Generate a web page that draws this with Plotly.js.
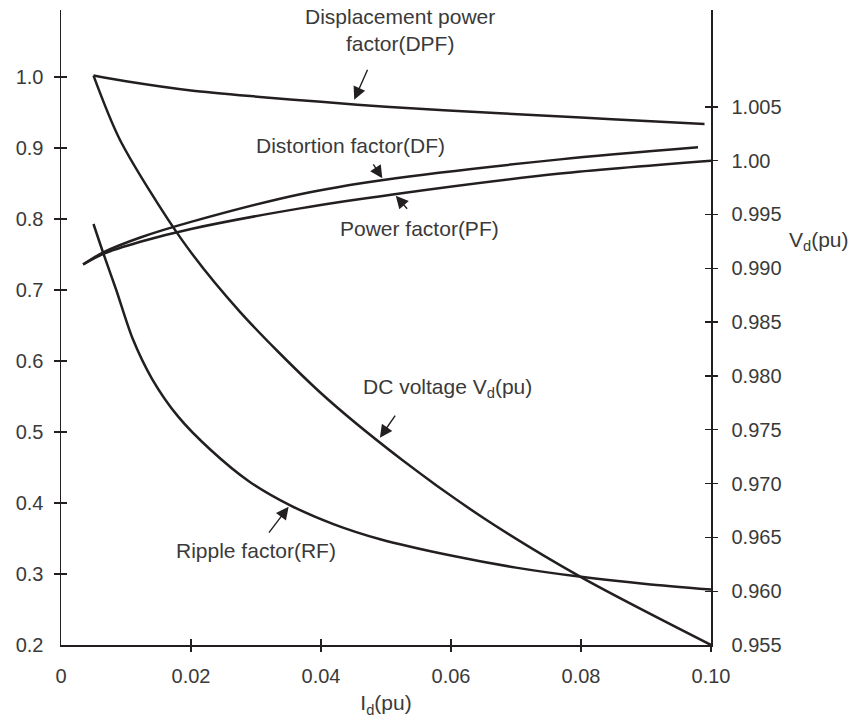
<!DOCTYPE html>
<html>
<head>
<meta charset="utf-8">
<script src="https://cdn.plot.ly/plotly-3.0.1.min.js"></script>
<style>
  html, body { margin: 0; padding: 0; background: #ffffff; }
  #chart { width: 850px; height: 722px; }
</style>
</head>
<body>
<div id="chart"></div>
<script>
// Load current I_d (pu) on the x axis
const xTickVals = [0, 0.02, 0.04, 0.06, 0.08, 0.10];
const xTickText = ['0', '0.02', '0.04', '0.06', '0.08', '0.10'];

// Left axis: factors
const leftTickVals = [0.2, 0.3, 0.4, 0.5, 0.6, 0.7, 0.8, 0.9, 1.0];
const leftTickText = ['0.2', '0.3', '0.4', '0.5', '0.6', '0.7', '0.8', '0.9', '1.0'];

// Right axis: DC voltage V_d (pu)
const rightTickVals = [0.955, 0.960, 0.965, 0.970, 0.975, 0.980, 0.985, 0.990, 0.995, 1.000, 1.005];
const rightTickText = ['0.955', '0.960', '0.965', '0.970', '0.975', '0.980', '0.985', '0.990', '0.995', '1.00', '1.005'];

// Displacement power factor (left axis)
const dpfX = [0.005, 0.010, 0.020, 0.0306, 0.040, 0.050, 0.0675, 0.080, 0.090, 0.099];
const dpfY = [1.002, 0.994, 0.981, 0.972, 0.965, 0.958, 0.949, 0.943, 0.938, 0.934];

// Distortion factor (left axis)
const dfX = [0.0034, 0.0065, 0.0122, 0.020, 0.0368, 0.0496, 0.0768, 0.098];
const dfY = [0.736, 0.753, 0.774, 0.796, 0.835, 0.855, 0.884, 0.901];

// Power factor (left axis)
const pfX = [0.0034, 0.0065, 0.0122, 0.020, 0.0368, 0.0513, 0.0768, 0.100];
const pfY = [0.736, 0.751, 0.768, 0.786, 0.815, 0.835, 0.864, 0.882];

// Ripple factor (left axis)
const rfX = [0.005, 0.0065, 0.0085, 0.011, 0.014, 0.018, 0.023, 0.029, 0.0352, 0.042, 0.0491, 0.060, 0.070, 0.080, 0.090, 0.100];
const rfY = [0.793, 0.752, 0.700, 0.632, 0.575, 0.522, 0.475, 0.430, 0.397, 0.370, 0.349, 0.326, 0.309, 0.296, 0.286, 0.278];

// DC voltage V_d (right axis)
const vdX = [0.005, 0.0091, 0.0186, 0.0275, 0.0398, 0.0525, 0.065, 0.080, 0.100];
const vdY = [1.0079, 1.0019, 0.99264, 0.98598, 0.97851, 0.97219, 0.9668, 0.9613, 0.955];

const INK = '#231f20';
const TEXT = '#3a3a3a';
const FONT = 'Liberation Sans, Arial, Helvetica, sans-serif';
const TICK_FS = 20;
const NOTE_FS = 21;

const xRange = [0, 0.1];
const leftRange = [0.2, 1.0944];
const rightRange = [0.955, 1.0140];

function interp(xs, ys, x) {
  for (let i = 0; i < xs.length - 1; i++) {
    if (x >= xs[i] && x <= xs[i + 1]) {
      const t = (x - xs[i]) / (xs[i + 1] - xs[i]);
      return ys[i] + t * (ys[i + 1] - ys[i]);
    }
  }
  return ys[ys.length - 1];
}

const curve = (x, y, yaxis) => ({
  x: x, y: y, xaxis: 'x', yaxis: yaxis,
  type: 'scatter', mode: 'lines',
  line: { color: INK, width: 2.5, shape: 'spline', smoothing: 0.8 },
  hoverinfo: 'skip', showlegend: false
});

const empty = (xa, ya) => ({ x: [], y: [], xaxis: xa, yaxis: ya, type: 'scatter', mode: 'lines', showlegend: false, hoverinfo: 'skip' });

const data = [
  curve(dpfX, dpfY, 'y'),
  curve(dfX, dfY, 'y'),
  curve(pfX, pfY, 'y'),
  curve(rfX, rfY, 'y'),
  curve(vdX, vdY, 'y2'),
  empty('x2', 'y3'),
  empty('x3', 'y4'),
  empty('x', 'y5'),
  empty('x', 'y6')
];

const tickFont = { family: FONT, size: TICK_FS, color: TEXT };
const noteFont = { family: FONT, size: NOTE_FS, color: TEXT };

// Crossing tick marks are built from an outward and an inward tick axis
const tickAxis = (extra) => Object.assign({
  showline: false, showgrid: false, zeroline: false, showticklabels: false,
  ticklen: 6, tickwidth: 1.3, tickcolor: INK, fixedrange: true
}, extra);

const arrow = (x, y, ax, ay, yref, standoff) => ({
  x: x, y: y, xref: 'x', yref: yref, text: '', showarrow: true,
  ax: ax, ay: ay, arrowhead: 2, arrowsize: 1.8, arrowwidth: 1.4,
  arrowcolor: INK, standoff: standoff
});

const label = (text, x, y, xanchor) => ({
  x: x, y: y, xref: 'x', yref: 'y', text: text, showarrow: false,
  xanchor: xanchor || 'center', yanchor: 'middle', font: noteFont
});

const layout = {
  width: 850, height: 722,
  margin: { l: 61, r: 139, t: 10, b: 77 },
  paper_bgcolor: '#ffffff', plot_bgcolor: '#ffffff',
  showlegend: false,
  xaxis: {
    range: xRange, showline: true, linecolor: INK, linewidth: 1.5,
    showgrid: false, zeroline: false, ticks: '',
    tickvals: xTickVals, ticktext: xTickText, tickfont: tickFont,
    ticklabelstandoff: 12, fixedrange: true,
    title: { text: 'I<sub>d</sub>(pu)', font: noteFont, standoff: 10 }
  },
  xaxis2: tickAxis({ overlaying: 'x', anchor: 'y', side: 'bottom', range: xRange, ticks: 'outside', tickvals: xTickVals.slice(1) }),
  xaxis3: tickAxis({ overlaying: 'x', anchor: 'y', side: 'bottom', range: xRange, ticks: 'inside', tickvals: xTickVals.slice(1) }),
  yaxis: {
    range: leftRange, showline: true, linecolor: INK, linewidth: 1.5,
    showgrid: false, zeroline: false, ticks: '',
    tickvals: leftTickVals, ticktext: leftTickText, tickfont: tickFont,
    ticklabelstandoff: 12, fixedrange: true
  },
  yaxis2: {
    overlaying: 'y', side: 'right', anchor: 'x', range: rightRange,
    showline: true, linecolor: INK, linewidth: 1.5,
    showgrid: false, zeroline: false, ticks: '',
    tickvals: rightTickVals, ticktext: rightTickText, tickfont: tickFont,
    ticklabelstandoff: 15, fixedrange: true
  },
  yaxis3: tickAxis({ overlaying: 'y', anchor: 'x', side: 'left', range: leftRange, ticks: 'outside', tickvals: leftTickVals.slice(1) }),
  yaxis4: tickAxis({ overlaying: 'y', anchor: 'x', side: 'left', range: leftRange, ticks: 'inside', tickvals: leftTickVals.slice(1) }),
  yaxis5: tickAxis({ overlaying: 'y', anchor: 'x', side: 'right', range: rightRange, ticks: 'outside', tickvals: rightTickVals.slice(1) }),
  yaxis6: tickAxis({ overlaying: 'y', anchor: 'x', side: 'right', range: rightRange, ticks: 'inside', tickvals: rightTickVals.slice(1) }),
  annotations: [
    label('Displacement power<br>factor(DPF)', 0.0522, 1.0662),
    label('Distortion factor(DF)', 0.0594, 0.9042, 'right'),
    label('Power factor(PF)', 0.0552, 0.7873),
    label('DC voltage V<sub>d</sub>(pu)', 0.0595, 0.562),
    label('Ripple factor(RF)', 0.0300, 0.3338),
    {
      x: 1.117, y: 0.9925, xref: 'paper', yref: 'y2', text: 'V<sub>d</sub>(pu)',
      showarrow: false, xanchor: 'left', yanchor: 'middle', font: noteFont
    },
    arrow(0.0448, interp(dpfX, dpfY, 0.0448), 16, -36, 'y', 5),
    arrow(0.0496, interp(dfX, dfY, 0.0496), -11, -17, 'y', 2),
    arrow(0.0513, interp(pfX, pfY, 0.0513), 14, 16, 'y', 2),
    arrow(0.0488, interp(vdX, vdY, 0.0488), 18, -26, 'y2', 3),
    arrow(0.0352, interp(rfX, rfY, 0.0352), -22, 29, 'y', 2)
  ]
};

Plotly.newPlot('chart', data, layout, { staticPlot: true, displayModeBar: false });
</script>
</body>
</html>
